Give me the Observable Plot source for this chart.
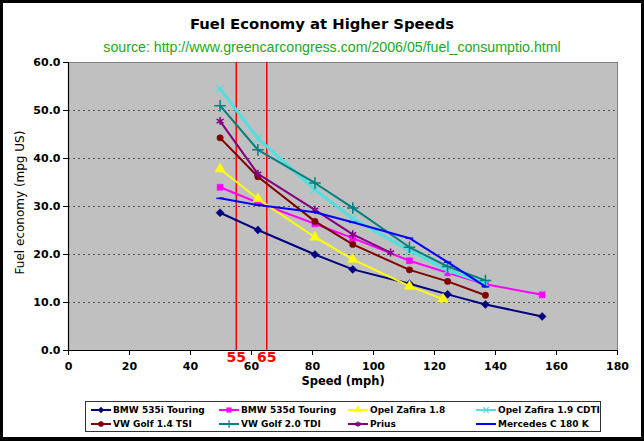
<!DOCTYPE html>
<html>
<head>
<meta charset="utf-8">
<script src="https://cdn.jsdelivr.net/npm/d3@7"></script>
<script src="https://cdn.jsdelivr.net/npm/@observablehq/plot@0.6"></script>
<style>
  html, body { margin: 0; padding: 0; background: #fff; }
  #wrap { position: relative; width: 644px; height: 441px; overflow: hidden; background: #fff; }
  #frame { position: absolute; left: 0; top: 0; width: 644px; height: 441px; box-sizing: border-box;
           border: 3px solid #000; border-bottom-width: 4px; pointer-events: none; }
  #title { position: absolute; left: 0; width: 644px; top: 15px; text-align: center;
           font: bold 14.8px "DejaVu Sans", Verdana, sans-serif; color: #000; }
  #subtitle { position: absolute; left: 10px; width: 644px; top: 39px; text-align: center;
           font: 14.2px "Liberation Sans", Arial, sans-serif; color: #22a822; }
  #legend { position: absolute; left: 85px; top: 401px; width: 516px; height: 31px; box-sizing: border-box;
            border: 1px solid #333; background: #fff; font: bold 9px "DejaVu Sans", sans-serif; }
  .item { position: absolute; height: 14px; display: flex; align-items: center; white-space: nowrap; }
  .item svg { margin-right: 1px; }
</style>
</head>
<body>
<div id="wrap">
  <div id="chart"></div>
  <div id="title">Fuel Economy at Higher Speeds</div>
  <div id="subtitle">source: http://www.greencarcongress.com/2006/05/fuel_consumptio.html</div>
  <div id="legend"></div>
  <div id="frame"></div>
</div>
<script>
// ---- data ----
const seriesNames = ["BMW 535i Touring", "BMW 535d Touring", "Opel Zafira 1.8", "Opel Zafira 1.9 CDTI",
                     "VW Golf 1.4 TSI", "VW Golf 2.0 TDI", "Prius", "Mercedes C 180 K"];
const seriesColors = ["#000080", "#ff00ff", "#ffff00", "#55dede", "#800000", "#008080", "#800080", "#0000ff"];

const speedsLong = [49.7, 62.1, 80.8, 93.2, 111.8, 124.3, 136.7, 155.3];
const speedsStd = [49.7, 62.1, 80.8, 93.2, 111.8, 124.3, 136.7];
const speedsZafira18 = [49.7, 62.1, 80.8, 93.2, 111.8, 122.8];
const speedsPrius = [49.7, 62.1, 80.8, 93.2, 105.6];

const bmw535i = [28.7, 25.1, 20.0, 16.9, 13.9, 11.7, 9.6, 7.1];
const bmw535d = [34.0, 30.8, 26.4, 23.4, 18.7, 16.2, 13.8, 11.6];
const zafira18 = [37.8, 31.6, 23.6, 19.0, 13.4, 10.7];
const zafira19 = [54.5, 44.2, 33.5, 27.5, 20.8, 16.7, 14.0];
const golf14 = [44.3, 36.2, 26.9, 22.1, 16.8, 14.4, 11.5];
const golf20 = [51.0, 41.8, 34.9, 29.7, 21.5, 17.5, 14.6];
const prius = [47.8, 36.8, 29.3, 24.2, 20.4];
const mercedes = [31.7, 30.3, 28.8, 26.7, 23.4, 18.4, 13.3];

const speedLimits = [55, 65];
const xTicks = [0, 20, 40, 60, 80, 100, 120, 140, 160, 180];
const yTicks = [0, 10, 20, 30, 40, 50, 60];

// ---- build table ----
const seriesSpeeds = [speedsLong, speedsLong, speedsZafira18, speedsStd, speedsStd, speedsStd, speedsPrius, speedsStd];
const seriesValues = [bmw535i, bmw535d, zafira18, zafira19, golf14, golf20, prius, mercedes];

const dash = { draw(ctx, size) { const r = Math.sqrt(size / Math.PI) * 1.1; ctx.moveTo(-r, 0); ctx.lineTo(r, 0); } };
const symbolDefs = [
  {sym: "diamond2", d3s: d3.symbolDiamond2, filled: true, r: 3.6},
  {sym: "square", d3s: d3.symbolSquare, filled: true, r: 3.4},
  {sym: "triangle", d3s: d3.symbolTriangle, filled: true, r: 3.8},
  {sym: "times", d3s: d3.symbolTimes, filled: false, r: 3.6},
  {sym: "circle", d3s: d3.symbolCircle, filled: true, r: 3.2},
  {sym: "plus", d3s: d3.symbolPlus, filled: false, r: 3.8},
  {sym: "asterisk", d3s: d3.symbolAsterisk, filled: false, r: 3.8},
  {sym: dash, d3s: dash, filled: false, r: 3.4}
];
const lineWidths = [2, 2, 2, 3.2, 2, 2, 2, 2];

const rows = [];
seriesNames.forEach((name, i) => {
  seriesSpeeds[i].forEach((s, j) => rows.push({series: name, idx: i, speed: s, mpg: seriesValues[i][j]}));
});

const marks = [
  Plot.frame({fill: "#c0c0c0", stroke: "#808080"}),
  Plot.gridY(yTicks.filter(d => d > 0 && d < 60), {stroke: "#555", strokeOpacity: 1, strokeDasharray: "2,3"}),
  Plot.ruleX(speedLimits, {stroke: "#ff0000", strokeWidth: 1.5}),
  Plot.ruleX([0], {stroke: "#000", strokeWidth: 1.2}),
  Plot.ruleY([0], {stroke: "#000", strokeWidth: 1.2}),
  Plot.axisY(yTicks, {tickFormat: d => d.toFixed(1), tickSize: 5, tickPadding: 3, label: null}),
  Plot.axisX(xTicks, {tickSize: 5, tickPadding: 7, label: null}),
  Plot.text(speedLimits, {x: d => d, frameAnchor: "bottom", dy: 11, text: d => String(d),
            fill: "#ff0000", fontSize: 14, fontWeight: "bold"}),
  Plot.text(["Fuel economy (mpg US)"], {frameAnchor: "left", dx: -48, dy: -4, rotate: -90, textAnchor: "middle",
            fontSize: 12, fontWeight: "normal"}),
  Plot.text(["Speed (mph)"], {frameAnchor: "bottom", dy: 34, fontSize: 11.5, fontWeight: "bold"})
];
seriesNames.forEach((name, i) => {
  const data = rows.filter(r => r.idx === i);
  marks.push(Plot.line(data, {x: "speed", y: "mpg", stroke: seriesColors[i], strokeWidth: lineWidths[i]}));
  const sd = symbolDefs[i];
  marks.push(Plot.dot(data, {x: "speed", y: "mpg", symbol: sd.sym, r: sd.r,
    fill: sd.filled ? seriesColors[i] : "none", stroke: seriesColors[i], strokeWidth: sd.filled ? 0.5 : 1.5}));
});

const chart = Plot.plot({
  width: 644, height: 441,
  marginTop: 62, marginRight: 27, marginBottom: 91, marginLeft: 68,
  x: {domain: [0, 180]},
  y: {domain: [0, 60]},
  style: {fontFamily: "DejaVu Sans", fontSize: "11px", fontWeight: "bold", color: "#000", background: "transparent", overflow: "visible"},
  marks
});
document.getElementById("chart").appendChild(chart);

// ---- legend ----
const legend = document.getElementById("legend");
const colX = [4, 132, 261, 389];
seriesNames.forEach((name, i) => {
  const col = i % 4, row = Math.floor(i / 4);
  const div = document.createElement("div");
  div.className = "item";
  div.style.left = colX[col] + "px";
  div.style.top = (1 + row * 14) + "px";
  const svg = d3.create("svg").attr("width", 22).attr("height", 12);
  svg.append("line").attr("x1", 1).attr("x2", 21).attr("y1", 6).attr("y2", 6)
     .attr("stroke", seriesColors[i]).attr("stroke-width", 2);
  const sd = symbolDefs[i];
  if (i !== 7) {
    svg.append("path").attr("transform", "translate(11,6)")
      .attr("d", d3.symbol(sd.d3s, Math.PI * 2.6 * 2.6))
      .attr("fill", sd.filled ? seriesColors[i] : "none")
      .attr("stroke", seriesColors[i]).attr("stroke-width", sd.filled ? 0.5 : 1.2);
  }
  div.appendChild(svg.node());
  const span = document.createElement("span");
  span.textContent = name;
  div.appendChild(span);
  legend.appendChild(div);
});
</script>
</body>
</html>
